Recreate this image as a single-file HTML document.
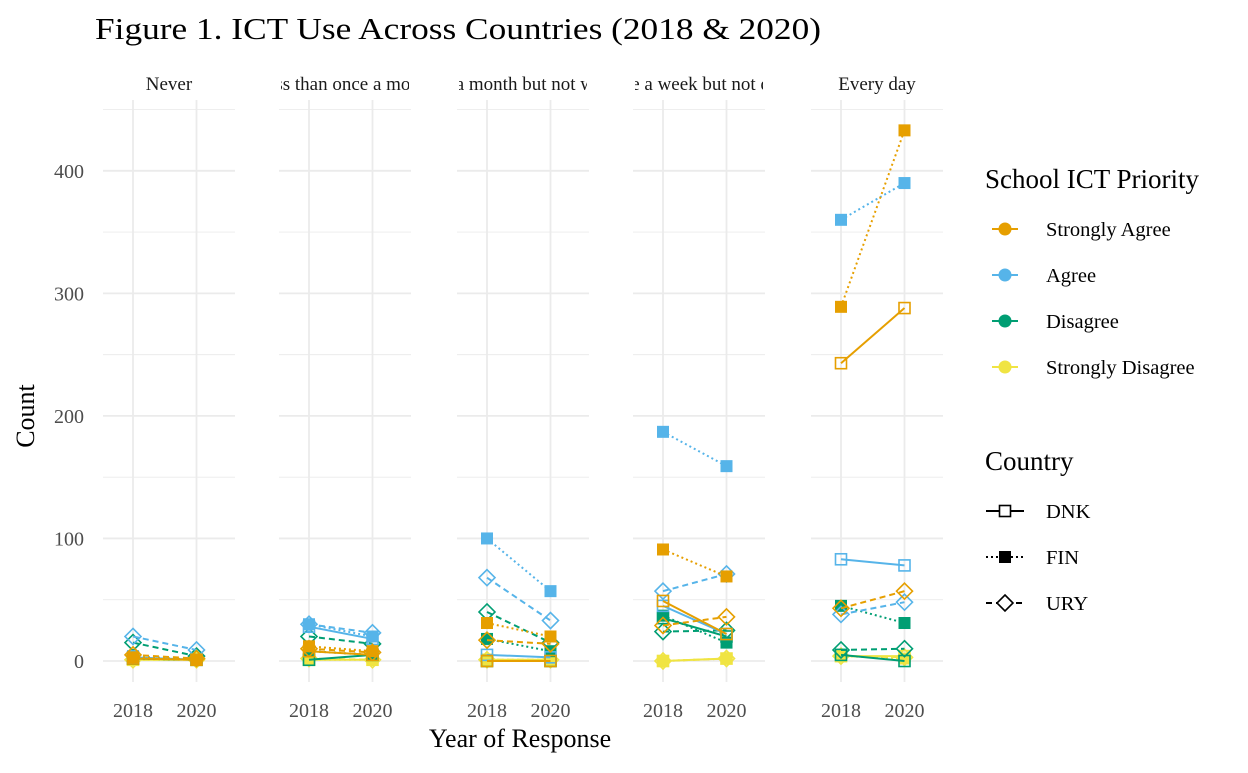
<!DOCTYPE html>
<html><head><meta charset="utf-8"><style>
body{margin:0;background:#fff;font-family:"Liberation Serif",serif;}
svg text{font-family:"Liberation Serif",serif;}
</style></head><body>
<svg id="chart" width="1248" height="768" xmlns="http://www.w3.org/2000/svg">
<text x="95" y="39" font-size="31" textLength="726" lengthAdjust="spacingAndGlyphs" fill="#000">Figure 1. ICT Use Across Countries (2018 &amp; 2020)</text>
<text x="520" y="747" font-size="26" text-anchor="middle">Year of Response</text>
<text transform="translate(34,416) rotate(-90)" font-size="26" text-anchor="middle">Count</text>
<g id="panels"></g>
<g id="legend"></g>
</svg>
<script>
const panelLabels=["Never","Less than once a month","Once a month but not weekly","Once a week but not daily","Every day"];
const years=["2018","2020"];
const yTicks=[0,100,200,300,400];
const priorities=["Strongly Agree","Agree","Disagree","Strongly Disagree"];
const countries=["DNK","FIN","URY"];
// values[panel][priority][country] = [2018, 2020]
const neverVals=[[[2,1],[3,1],[5,2]],[[3,1],[4,1],[20,9]],[[2,1],[2,1],[15,4]],[[1,1],[1,1],[1,1]]];
const lessVals=[[[8,5],[12,8],[10,7]],[[28,18],[30,20],[30,23]],[[1,5],[8,5],[20,14]],[[1,1],[1,1],[2,1]]];
const monthVals=[[[0,0],[31,20],[17,14]],[[5,3],[100,57],[68,33]],[[0,0],[18,8],[40,15]],[[1,1],[1,1],[1,1]]];
const weekVals=[[[49,22],[91,69],[29,36]],[[45,22],[187,159],[57,71]],[[35,20],[37,15],[24,25]],[[0,2],[0,2],[0,2]]];
const dayVals=[[[243,288],[289,433],[43,57]],[[83,78],[360,390],[38,48]],[[5,0],[45,31],[9,10]],[[4,4],[4,2],[4,3]]];
const values=[neverVals,lessVals,monthVals,weekVals,dayVals];
const colors=["#E69F00","#56B4E9","#009E73","#F0E442"];
const dash=["","2,3","6,4"];
const NS="http://www.w3.org/2000/svg";
const panelX0=[103,279,457,633,811], panelW=132;
function yS(v){return 661-v*1.2255;}
function xS(p,i){return panelX0[p]+30+i*63.5;}
function mk(tag,attrs,parent){const e=document.createElementNS(NS,tag);for(const k in attrs)e.setAttribute(k,attrs[k]);parent.appendChild(e);return e;}
const root=document.getElementById('panels');
const defs=mk('defs',{},root);
yTicks.forEach(t=>{const tx=mk('text',{x:84,y:yS(t)+7,'font-size':20,'text-anchor':'end',fill:'#4d4d4d'},root);tx.textContent=t;

});
function marker(g,x,y,c,ci,col){
  let e;
  if(ci===2){e=mk('path',{d:`M${x} ${y-8}L${x+8} ${y}L${x} ${y+8}L${x-8} ${y}Z`,fill:'none',stroke:col,'stroke-width':1.6},g);}
  else if(ci===1){e=mk('rect',{x:x-6,y:y-6,width:12,height:12,fill:col},g);}
  else{e=mk('rect',{x:x-5.5,y:y-5.5,width:11,height:11,fill:'none',stroke:col,'stroke-width':1.6},g);}
  return e;
}
panelLabels.forEach((lab,p)=>{
  const g=mk('g',{},root);
  
  
  const x0=panelX0[p];
  for(let v=0;v<=450;v+=50){mk('line',{x1:x0,x2:x0+panelW,y1:yS(v),y2:yS(v),stroke:'#ebebeb','stroke-width':v%100===0?1.8:0.9},g);}
  years.forEach((yr,i)=>{mk('line',{x1:xS(p,i),x2:xS(p,i),y1:100,y2:682,stroke:'#ebebeb','stroke-width':1.8},g);
    const t=mk('text',{x:xS(p,i),y:717,'font-size':20,'text-anchor':'middle',fill:'#4d4d4d'},g);t.textContent=yr;
    
    });
  const cp=mk('clipPath',{id:'cp'+p},defs);mk('rect',{x:x0+2,y:60,width:panelW-4,height:40},cp);
  const st=mk('text',{x:x0+panelW/2,y:90,'font-size':19,'text-anchor':'middle','clip-path':'url(#cp'+p+')',fill:'#1a1a1a'},g);st.textContent=lab;
  
  
  for(let pi=priorities.length-1;pi>=0;pi--){countries.forEach((c,ci)=>{
    const v=values[p][pi][ci];
    const ln=mk('line',{x1:xS(p,0),y1:yS(v[0]),x2:xS(p,1),y2:yS(v[1]),stroke:colors[pi],'stroke-width':2,'stroke-dasharray':dash[ci]},g);
    
    
    v.forEach((val,i)=>{const m=marker(g,xS(p,i),yS(val),c,ci,colors[pi]);
      
      });
  });}
});
const lg=document.getElementById('legend');
let t=mk('text',{x:985,y:188,'font-size':27},lg);t.textContent="School ICT Priority";


priorities.forEach((pr,i)=>{const y=229+i*46;const g=mk('g',{},lg);
  
  
  mk('line',{x1:992,x2:1018,y1:y,y2:y,stroke:colors[i],'stroke-width':2},g);
  mk('circle',{cx:1005,cy:y,r:6.5,fill:colors[i]},g);
  const tx=mk('text',{x:1046,y:y+7,'font-size':20.5},g);tx.textContent=pr;});
t=mk('text',{x:985,y:470,'font-size':27},lg);t.textContent="Country";


countries.forEach((c,i)=>{const y=511+i*46;const g=mk('g',{},lg);
  
  
  mk('line',{x1:986,x2:1024,y1:y,y2:y,stroke:'#000','stroke-width':2,'stroke-dasharray':dash[i]},g);
  const m=marker(g,1005,y,c,i,'#000');
  if(i!==1){m.setAttribute('fill','#fff');}
  const tx=mk('text',{x:1046,y:y+7,'font-size':20.5},g);tx.textContent=c;});
</script>
</body></html>
